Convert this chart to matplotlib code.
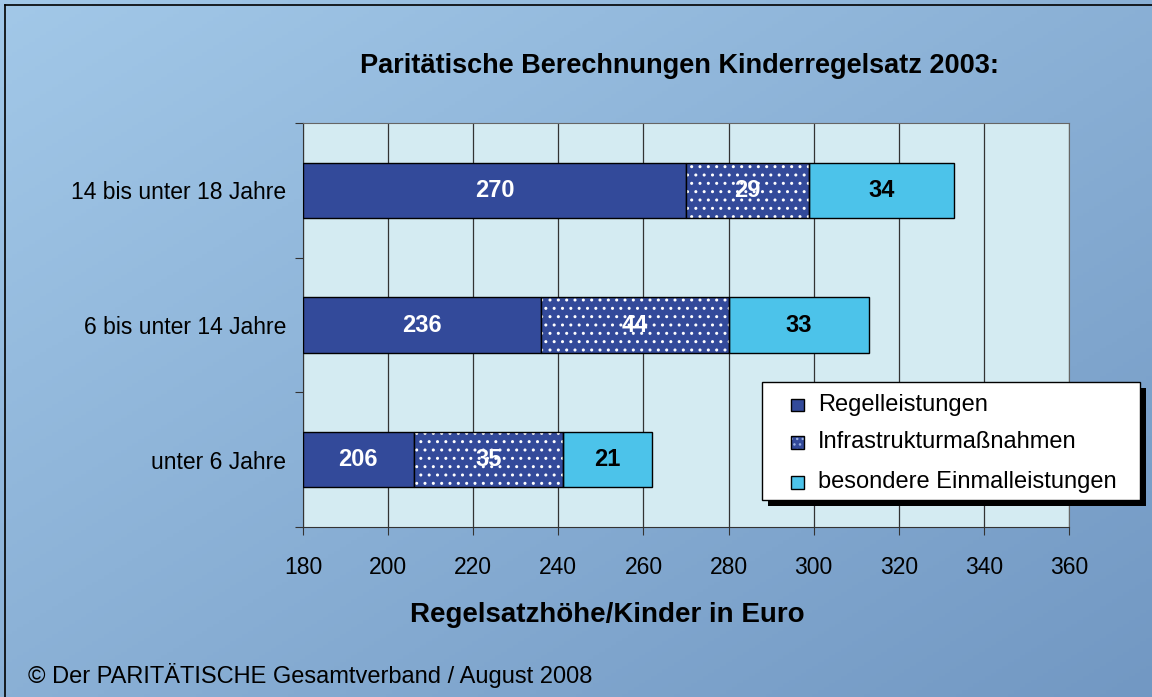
import numpy as np
import matplotlib
matplotlib.use("Agg")
import matplotlib.pyplot as plt
from matplotlib.patches import Rectangle

plt.rcParams["font.family"] = ["Liberation Sans", "DejaVu Sans"]

# data
categories = ["14 bis unter 18 Jahre", "6 bis unter 14 Jahre", "unter 6 Jahre"]
regel = [270, 236, 206]
infra = [29, 44, 35]
einmal = [34, 33, 21]
series_names = ["Regelleistungen", "Infrastrukturmaßnahmen", "besondere Einmalleistungen"]
x_ticks = [180, 200, 220, 240, 260, 280, 300, 320, 340, 360]

dark = "#334a9a"
cyan = "#4cc3ea"

fig = plt.figure(figsize=(11.52, 6.97), dpi=100)

# gradient background
bg = fig.add_axes([0, 0, 1, 1], zorder=-10)
gx, gy = np.meshgrid(np.linspace(0, 1, 200), np.linspace(0, 1, 200))
t = (gx * 0.5 + gy * 0.5)
c0 = np.array([162, 200, 232]) / 255
c1 = np.array([114, 152, 195]) / 255
img = c0[None, None, :] * (1 - t[..., None]) + c1[None, None, :] * t[..., None]
bg.imshow(img, extent=[0, 1, 0, 1], aspect="auto", origin="upper")
bg.set_xlim(0, 1)
bg.set_ylim(0, 1)
bg.axis("off")
# thin black frame top/left
bg.plot([5 / 1152, 5 / 1152], [0, 1 - 5 / 697], color="black", lw=1.2)
bg.plot([5 / 1152, 1], [1 - 5 / 697, 1 - 5 / 697], color="black", lw=1.2)

ax = fig.add_axes([303 / 1152, 1 - 527 / 697, (1069 - 303) / 1152, (527 - 123) / 697])
ax.set_facecolor("#d4ebf2")

y = np.arange(len(categories))
h = 0.41
left2 = np.array(regel)
left3 = left2 + np.array(infra)

ax.barh(y, np.array(regel) - 180, left=180, height=h, color=dark,
        edgecolor="black", lw=1, zorder=3)
ax.barh(y, infra, left=left2, height=h, color=dark, edgecolor="white",
        hatch="..", lw=0, zorder=3)
ax.barh(y, infra, left=left2, height=h, color="none", edgecolor="black",
        lw=1, zorder=4)
ax.barh(y, einmal, left=left3, height=h, color=cyan, edgecolor="black",
        lw=1, zorder=3)

lab_fs = 17
for i in range(len(categories)):
    ax.text((180 + regel[i]) / 2, y[i], str(regel[i]), color="white",
            fontsize=lab_fs, fontweight="bold", ha="center", va="center", zorder=5)
    ax.text(left2[i] + infra[i] / 2, y[i], str(infra[i]), color="white",
            fontsize=lab_fs, fontweight="bold", ha="center", va="center", zorder=5)
    ax.text(left3[i] + einmal[i] / 2, y[i], str(einmal[i]), color="black",
            fontsize=lab_fs, fontweight="bold", ha="center", va="center", zorder=5)

ax.set_xlim(180, 360)
ax.set_ylim(len(categories) - 0.5, -0.5)
ax.set_xticks(x_ticks)
ax.set_xticklabels([str(v) for v in x_ticks], fontsize=16.5)
ax.grid(axis="x", color="#333333", lw=0.9, zorder=1)
ax.set_yticks(np.arange(-0.5, len(categories), 1.0))
ax.set_yticklabels([])
ax.set_yticks(y, minor=True)
ax.set_yticklabels(categories, minor=True, fontsize=16.5)
ax.tick_params(axis="y", which="minor", length=0, pad=12)
ax.tick_params(axis="y", which="major", length=6, color="#333333")
ax.tick_params(axis="x", length=6, color="#333333", pad=15)
for side in ["top", "right"]:
    ax.spines[side].set_color("#666666")
for side in ["left", "bottom"]:
    ax.spines[side].set_color("#333333")

ax.set_xlabel("Regelsatzhöhe/Kinder in Euro", fontsize=20, fontweight="bold")
ax.xaxis.set_label_coords((607 - 303) / 766, (527 - 615) / 404)
ax.xaxis.label.set_va("center")

fig.text(680 / 1152, 1 - 66 / 697, "Paritätische Berechnungen Kinderregelsatz 2003:",
         fontsize=19.5, fontweight="bold", ha="center", va="center")
fig.text(28 / 1152, 1 - 675 / 697, "© Der PARITÄTISCHE Gesamtverband / August 2008",
         fontsize=17, ha="left", va="center")

# legend box with shadow
lx0, lx1, ly0, ly1 = 762, 1140, 382, 500
fx = lambda px: px / 1152
fy = lambda py: 1 - py / 697
bg2 = fig.add_axes([0, 0, 1, 1], zorder=5)
bg2.set_xlim(0, 1)
bg2.set_ylim(0, 1)
bg2.axis("off")
bg2.add_patch(Rectangle((fx(lx0 + 6), fy(ly1 + 6)), fx(lx1 - lx0), fy(ly0) - fy(ly1),
                        facecolor="black", edgecolor="none"))
bg2.add_patch(Rectangle((fx(lx0), fy(ly1)), fx(lx1 - lx0), fy(ly0) - fy(ly1),
                        facecolor="white", edgecolor="black", lw=1))
item_y = [405, 442, 482]
s = 13
for yy, name, col, hatched in zip(item_y, series_names, [dark, dark, cyan],
                                  [False, True, False]):
    x0 = fx(791)
    y0 = fy(yy + s / 2)
    w = fx(s)
    hh = fy(yy - s / 2) - fy(yy + s / 2)
    if hatched:
        bg2.add_patch(Rectangle((x0, y0), w, hh, facecolor=dark,
                                edgecolor="#9ab0e0", hatch="...", lw=0))
        bg2.add_patch(Rectangle((x0, y0), w, hh, facecolor="none",
                                edgecolor="black", lw=1))
    else:
        bg2.add_patch(Rectangle((x0, y0), w, hh, facecolor=col,
                                edgecolor="black", lw=1))
    bg2.text(fx(818), fy(yy), name, fontsize=17, ha="left", va="center")

fig.savefig("out.png", dpi=100)
